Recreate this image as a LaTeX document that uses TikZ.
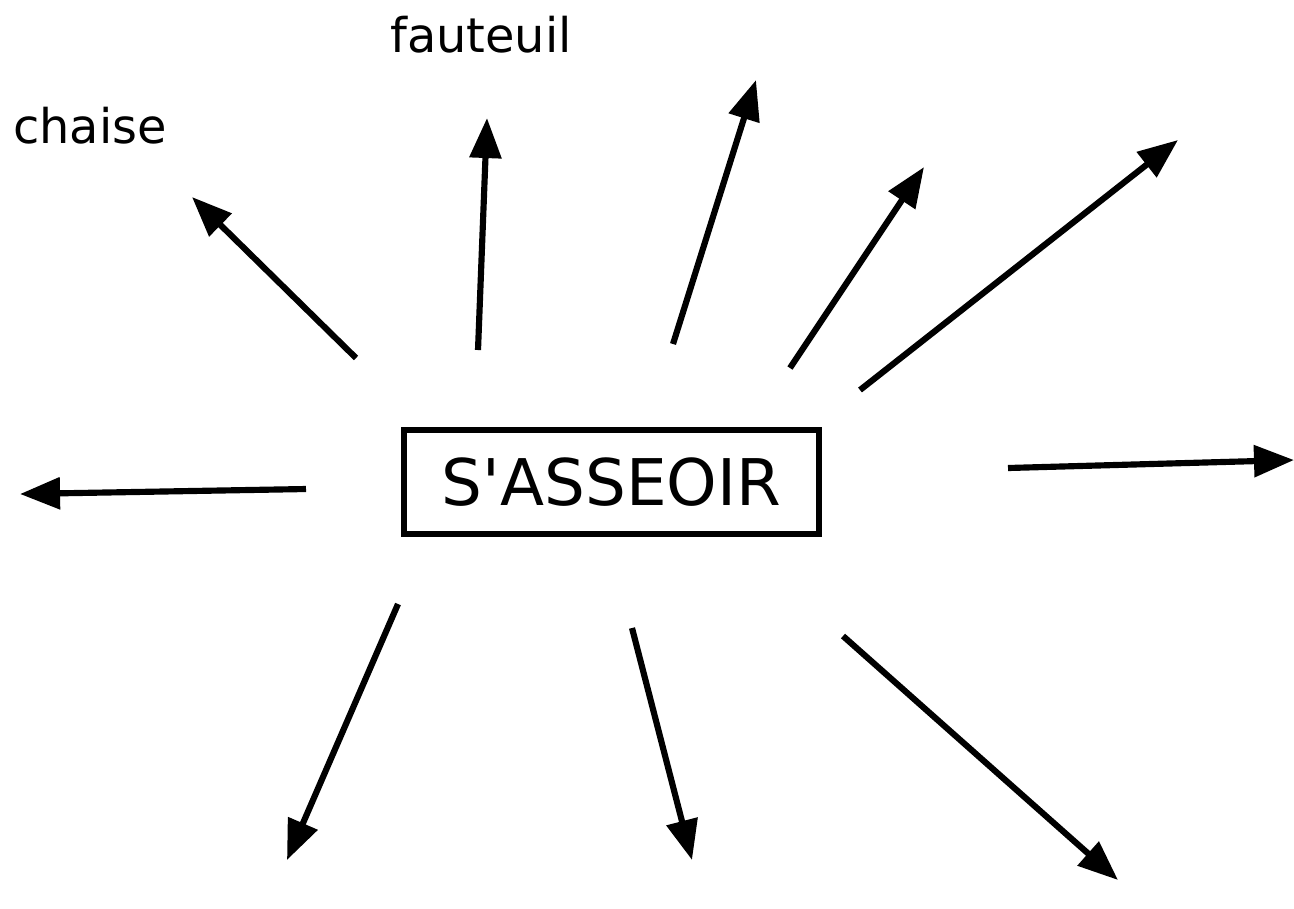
\documentclass[tikz,border=0pt]{standalone}
\usepackage{fontspec}
\setmainfont{DejaVu Sans}
\usetikzlibrary{arrows.meta}
\tikzset{
  ray/.style={line width=1.75pt, -{Triangle[length=0.4cm, width=0.31cm]}},
  verbbox/.style={rectangle, draw, line width=1.8pt, minimum width=4.15cm, minimum height=1.04cm, inner sep=0pt, font=\fontsize{18.3}{20}\selectfont},
  word/.style={anchor=base, font=\fontsize{13.6}{16}\selectfont}
}
\begin{document}
\begin{tikzpicture}[x=0.01cm, y=-0.01cm]
      \useasboundingbox (0,0) rectangle (1294,908);
      % Nodes
      \node (verb) at (611.5,482) [verbbox] {S\textquotesingle ASSEOIR};
      \node (fauteuil) at (481,52) [word] {fauteuil};
      \node (chaise) at (90,143) [word] {chaise};

      \coordinate (t1) at (356,358);  \coordinate (h1) at (192,197);
      \coordinate (t2) at (478,350);  \coordinate (h2) at (487,118);
      \coordinate (t3) at (673,344);  \coordinate (h3) at (756,80);
      \coordinate (t4) at (790,368);  \coordinate (h4) at (924,167);
      \coordinate (t5) at (860,390);  \coordinate (h5) at (1178,140);
      \coordinate (t6) at (1008,468); \coordinate (h6) at (1294,460);
      \coordinate (t7) at (306,489);  \coordinate (h7) at (20,494);
      \coordinate (t8) at (398,604);  \coordinate (h8) at (287,860);
      \coordinate (t9) at (632,628);  \coordinate (h9) at (692,860);
      \coordinate (t10) at (843,636); \coordinate (h10) at (1118,880);

      % Edges
      \foreach \i in {1,...,10}
        \draw[ray] (t\i) -- (h\i);
    \end{tikzpicture}
\end{document}
